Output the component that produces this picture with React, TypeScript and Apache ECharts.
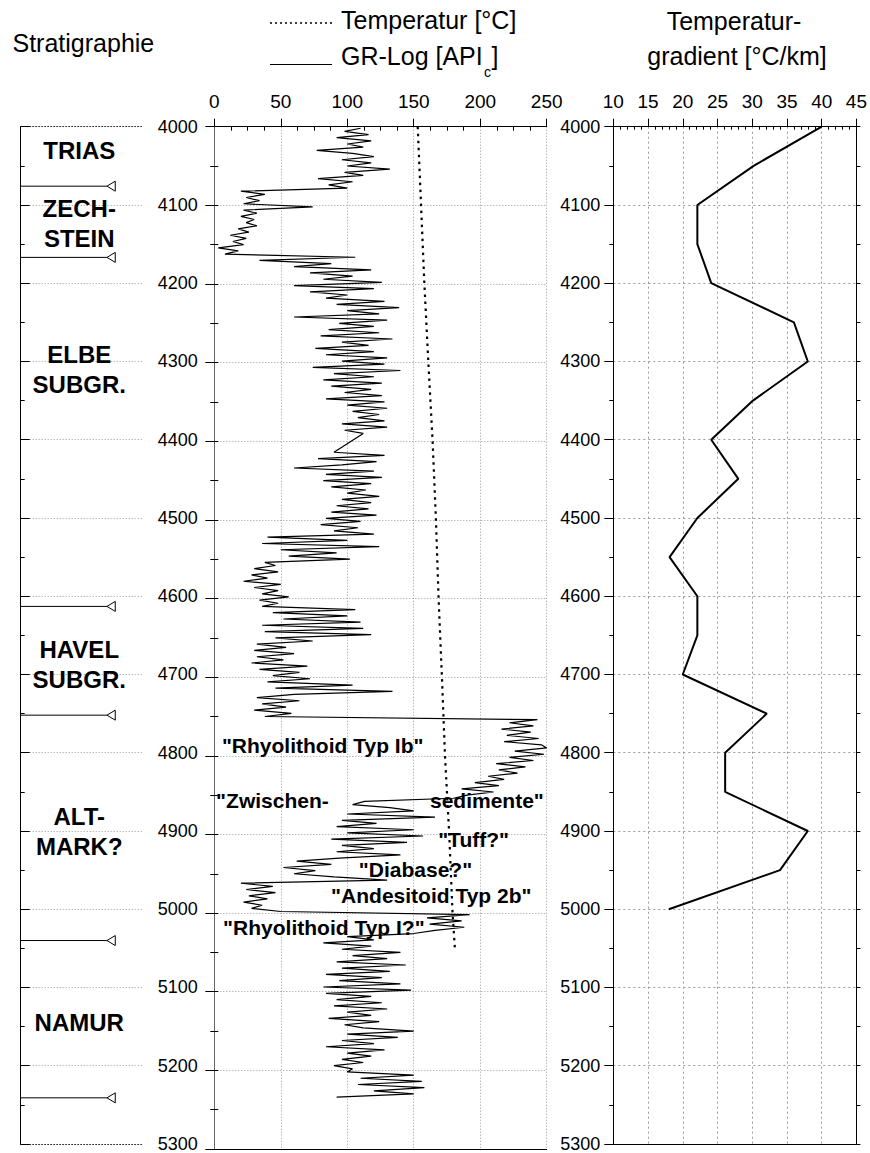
import React, { useEffect, useRef } from 'react';
import * as echarts from 'echarts';

const FONT = '"Liberation Sans", Arial, Helvetica, sans-serif';

// Depth axis
const DEPTH_MIN = 4000;
const DEPTH_MAX = 5300;

// GR log: sampled every GR_STEP metres from GR_START (null = gap in log)
const GR_START = 4002;
const GR_STEP = 4;
const grValues: (number | null)[] = [
  110, 98, 116, 92, 118, 100, 112, 77, 104, 120,
  96, 118, 100, 132, 98, 112, 78, 104, 86, 100,
  20, 38, 24, 34, 22, 74, 22, 32, 20, 30,
  24, 32, 18, 26, 12, 24, 14, 22, 3, 18,
  8, 106, 34, 88, 60, 118, 72, 104, 82, 126,
  60, 120, 72, 100, 84, 128, 92, 139, 100, 124,
  60, 130, 94, 120, 86, 124, 80, 134, 96, 116,
  76, 120, 84, 130, 96, 128, 74, 140, 90, 120,
  82, 126, 88, 118, 98, 126, 84, 128, 100, 130,
  104, 124, 108, 128, 96, 130, 98, 112, null, null,
  null, null, null, 90, 128, 78, 122, 96, 60, 120,
  84, 126, 82, 118, 88, 114, 100, 124, 96, 118,
  92, 116, 88, 122, 84, 110, 80, 108, 90, 120,
  40, 100, 36, 124, 50, 92, 56, 102, 38, 46,
  30, 48, 28, 40, 22, 50, 30, 48, 36, 56,
  34, 48, 36, 106, 44, 100, 52, 110, 36, 112,
  38, 118, 46, 74, 32, 54, 30, 60, 32, 52,
  28, 70, 34, 64, 44, 72, 40, 104, 46, 134,
  60, 32, 64, 36, 54, 30, 58, 38, 243, 222,
  240, 216, 238, 220, 244, 218, 246, 250, 226, 248,
  222, 240, 212, 234, 214, 228, 206, 218, 196, 214,
  186, 210, 190, 180, 113, 104, 132, 150, 100, 166,
  96, 122, 92, 150, 100, 157, 88, 145, 96, 120,
  92, 140, 94, 62, 88, 52, 76, 60, 90, 130,
  20, 44, 24, 46, 26, 40, 22, 36, 28, 50,
  192, 160, 186, 162, 188, 166, 150, 100, 120, 82,
  118, 96, 140, 104, 130, 92, 144, 96, 132, 84,
  126, 94, 140, 82, 148, 84, 118, 92, 126, 90,
  130, 100, 118, 86, 124, 98, 112, 150, 100, 138,
  96, 120, 84, 128, 100, 118, 96, 112, 90, 104,
  100, 150, 110, 156, 108, 158, 120, 150, 92,
];

// Temperature [°C]
const tempDepths = [4000, 4100, 4200, 4300, 4400, 4500, 4600, 4700, 4800, 4900, 5000, 5046];
const tempValues = [153, 155.5, 158, 161, 164.2, 166.7, 168.7, 171.2, 173.5, 176.7, 179.2, 181];

// Temperature gradient [°C/km]
const gradDepths = [4000, 4050, 4100, 4150, 4200, 4250, 4300, 4350, 4400, 4450, 4500,
  4550, 4600, 4650, 4700, 4750, 4800, 4850, 4900, 4950, 5000];
const gradValues = [40, 30.2, 22.1, 22.1, 24.1, 36, 38, 30.1, 24.1, 28, 22.1,
  18.1, 22.1, 22.1, 20, 32.1, 26.1, 26.1, 38, 34, 18];

// Stratigraphy
const stratBoundaries = [4076, 4167, 4613, 4752, 5040, 5241];
const stratNames = ['TRIAS', 'ZECH-\nSTEIN', 'ELBE\nSUBGR.', 'HAVEL\nSUBGR.', 'ALT-\nMARK?', 'NAMUR'];
const stratLabelDepths = [4030, 4124, 4310, 4687, 4901, 5145];

// Annotations in GR panel
const annoTexts = ['"Rhyolithoid Typ Ib"', '"Zwischen-', 'sedimente"', '"Tuff?"', '"Diabase?"', '"Andesitoid Typ 2b"', '"Rhyolithoid Typ I?"'];
const annoGR = [81.5, 43.7, 205, 195, 151.3, 163.2, 82.4];
const annoDepths = [4787, 4857, 4857, 4907, 4944, 4978, 5018];

// Axis ticks
const grTicks = { min: 0, max: 250, interval: 50 };
const gradTicks = { min: 10, max: 45, interval: 5 };
const depthInterval = 100;

const BLACK = '#000';

function buildOption() {
  const grData = grValues.map((v, i) => [v === null ? null : v, GR_START + i * GR_STEP]);
  const tempData = tempDepths.map((d, i) => [tempValues[i], d]);
  const gradData = gradDepths.map((d, i) => [gradValues[i], d]);

  const grids = [
    { left: 20.7, top: 126.7, width: 122, height: 1022.3 },
    { left: 214.3, top: 126.7, width: 332.4, height: 1022.3 },
    { left: 613.3, top: 126.7, width: 244, height: 1022.3 },
  ];

  const depthBase = (gridIndex: number, position: string) => ({
    type: 'value', gridIndex, position, inverse: true,
    min: DEPTH_MIN, max: DEPTH_MAX, interval: depthInterval,
    axisLine: { show: true, lineStyle: { color: BLACK, width: 1 } },
    axisTick: { show: true, length: 9, lineStyle: { color: BLACK } },
    minorTick: { show: true, splitNumber: 2, length: 4, lineStyle: { color: BLACK } },
    axisLabel: { show: false },
    splitLine: { show: false },
  });

  const plain = (v: number) => String(v);
  const labelStyle = { color: BLACK, fontSize: 18, fontFamily: FONT, formatter: plain };
  const dottedGrid = { show: true, lineStyle: { color: '#9a9a9a', width: 1, type: [1, 2] } };
  const dashedGrid = { show: true, lineStyle: { color: '#9a9a9a', width: 1, type: [2, 3] } };

  const yAxis: any[] = [
    { ...depthBase(0, 'left'), axisTick: { show: false, inside: true }, minorTick: { show: true, splitNumber: 2, length: 3, lineStyle: { color: BLACK } }, splitLine: dottedGrid },
    { ...depthBase(0, 'right'), axisLabel: { show: true, margin: 15, ...labelStyle } },
    { ...depthBase(1, 'left'), splitLine: dottedGrid },
    { ...depthBase(1, 'right'), axisLine: { show: true, lineStyle: { color: '#666', width: 1 } }, axisTick: { show: true, length: 4, lineStyle: { color: BLACK } } },
    { ...depthBase(2, 'left'), axisLabel: { show: true, margin: 13, ...labelStyle }, splitLine: dashedGrid },
    { ...depthBase(2, 'right'), axisTick: { show: true, length: 4, lineStyle: { color: BLACK } } },
  ];

  const hidden = { axisTick: { show: false }, axisLabel: { show: false }, splitLine: { show: false }, minorTick: { show: false } };
  const topLabel = { show: true, margin: 16, color: BLACK, fontSize: 19, fontFamily: FONT, formatter: plain };

  const xAxis: any[] = [
    { type: 'value', gridIndex: 0, position: 'top', min: 0, max: 1, ...hidden, axisLine: { show: true, lineStyle: { color: '#333', type: [1, 2] } } },
    { type: 'value', gridIndex: 0, position: 'bottom', min: 0, max: 1, ...hidden, axisLine: { show: true, lineStyle: { color: '#333', type: [1, 2] } } },
    { type: 'value', gridIndex: 1, position: 'top', ...grTicks, axisLine: { show: true, lineStyle: { color: BLACK } }, axisTick: { show: true, length: 8, lineStyle: { color: BLACK } }, axisLabel: topLabel, splitLine: dottedGrid },
    { type: 'value', gridIndex: 1, position: 'top', ...grTicks, axisLine: { show: false }, axisTick: { show: false, inside: true }, axisLabel: { show: false }, splitLine: { show: false }, minorTick: { show: true, splitNumber: 4, length: 4, lineStyle: { color: BLACK } } },
    { type: 'value', gridIndex: 1, position: 'bottom', ...grTicks, ...hidden, axisLine: { show: true, lineStyle: { color: BLACK } } },
    { type: 'value', gridIndex: 2, position: 'top', ...gradTicks, axisLine: { show: true, lineStyle: { color: BLACK } }, axisTick: { show: true, length: 8, lineStyle: { color: BLACK } }, axisLabel: topLabel, splitLine: dashedGrid },
    { type: 'value', gridIndex: 2, position: 'top', ...gradTicks, axisLine: { show: false }, axisTick: { show: false, inside: true }, axisLabel: { show: false }, splitLine: { show: false }, minorTick: { show: true, splitNumber: 5, length: 3, lineStyle: { color: BLACK } } },
    { type: 'value', gridIndex: 2, position: 'bottom', ...gradTicks, ...hidden, axisLine: { show: true, lineStyle: { color: BLACK } } },
  ];

  const BOUNDARY_LEN = 0.707;

  const series: any[] = [
    {
      type: 'custom', xAxisIndex: 0, yAxisIndex: 0, silent: true, z: 4,
      data: stratBoundaries.map((d) => [0, d]),
      renderItem: (params: any, api: any) => {
        const a = api.coord([0, api.value(1)]);
        const b = api.coord([BOUNDARY_LEN, api.value(1)]);
        return {
          type: 'group',
          children: [
            { type: 'line', shape: { x1: a[0], y1: a[1], x2: b[0], y2: b[1] }, style: { stroke: BLACK, lineWidth: 1 } },
            { type: 'polygon', shape: { points: [[b[0], b[1]], [b[0] + 8.3, b[1] - 5], [b[0] + 8.3, b[1] + 5]] }, style: { fill: '#fff', stroke: BLACK, lineWidth: 1 } },
          ],
        };
      },
    },
    {
      type: 'custom', xAxisIndex: 0, yAxisIndex: 0, silent: true, z: 4,
      data: stratLabelDepths.map((d) => [0.48, d]),
      renderItem: (params: any, api: any) => {
        const p = api.coord([api.value(0), api.value(1)]);
        return {
          type: 'text', x: p[0], y: p[1],
          style: { text: stratNames[params.dataIndex], fill: BLACK, fontSize: 24, fontWeight: 'bold', fontFamily: FONT, align: 'center', verticalAlign: 'middle', lineHeight: 30 },
        };
      },
    },
    {
      type: 'line', xAxisIndex: 2, yAxisIndex: 2, data: grData, symbol: 'none', showSymbol: false,
      connectNulls: true, silent: true, z: 3, lineStyle: { color: BLACK, width: 1.2 },
    },
    {
      type: 'line', xAxisIndex: 2, yAxisIndex: 2, data: tempData, symbol: 'none', showSymbol: false,
      silent: true, z: 3, lineStyle: { color: BLACK, width: 2.2, type: [2.5, 4.5] },
    },
    {
      type: 'custom', xAxisIndex: 2, yAxisIndex: 2, silent: true, z: 6,
      data: annoDepths.map((d, i) => [annoGR[i], d]),
      renderItem: (params: any, api: any) => {
        const p = api.coord([api.value(0), api.value(1)]);
        return {
          type: 'text', x: p[0], y: p[1],
          style: { text: annoTexts[params.dataIndex], fill: BLACK, fontSize: 21, fontWeight: 'bold', fontFamily: FONT, align: 'center', verticalAlign: 'middle' },
        };
      },
    },
    {
      type: 'line', xAxisIndex: 5, yAxisIndex: 4, data: gradData, symbol: 'none', showSymbol: false,
      silent: true, z: 3, lineStyle: { color: BLACK, width: 2 },
    },
  ];

  const titleStyle = { fill: BLACK, fontSize: 25, fontFamily: FONT, verticalAlign: 'middle' };
  const graphic: any[] = [
    { type: 'text', x: 12.5, y: 43, style: { ...titleStyle, text: 'Stratigraphie', align: 'left' } },
    { type: 'line', shape: { x1: 270, y1: 23, x2: 332, y2: 23 }, style: { stroke: BLACK, lineWidth: 1.5, lineDash: [2, 3] } },
    { type: 'text', x: 341, y: 19.5, style: { ...titleStyle, text: 'Temperatur [°C]', align: 'left' } },
    { type: 'line', shape: { x1: 270, y1: 64.5, x2: 332, y2: 64.5 }, style: { stroke: BLACK, lineWidth: 1 } },
    { type: 'text', x: 341, y: 56, style: { ...titleStyle, text: 'GR-Log [API', align: 'left' } },
    { type: 'text', x: 484, y: 72, style: { ...titleStyle, fontSize: 14, text: 'c', align: 'left' } },
    { type: 'text', x: 491.5, y: 56, style: { ...titleStyle, text: ']', align: 'left' } },
    { type: 'text', x: 734, y: 21, style: { ...titleStyle, text: 'Temperatur-', align: 'center' } },
    { type: 'text', x: 737, y: 55.5, style: { ...titleStyle, text: 'gradient [°C/km]', align: 'center' } },
  ];

  return {
    animation: false,
    backgroundColor: '#fff',
    textStyle: { fontFamily: FONT },
    grid: grids,
    xAxis,
    yAxis,
    series,
    graphic,
  };
}

export default function App() {
  const ref = useRef<HTMLDivElement>(null);
  useEffect(() => {
    document.body.style.margin = '0';
    const chart = echarts.init(ref.current!, null, { renderer: 'svg' });
    chart.setOption(buildOption() as any);
    return () => chart.dispose();
  }, []);
  return (
    <div
      ref={ref}
      style={{ position: 'fixed', left: 0, top: 0, width: 870, height: 1153, overflow: 'hidden' }}
    />
  );
}
